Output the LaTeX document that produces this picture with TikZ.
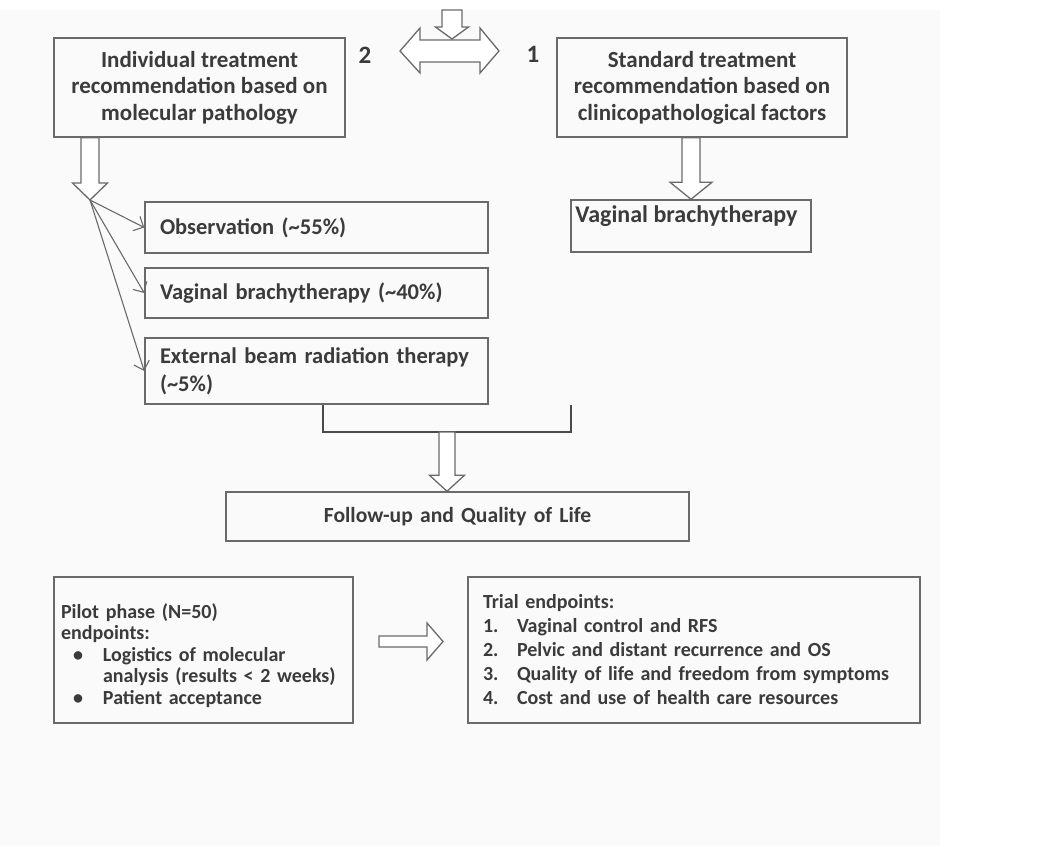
\documentclass[tikz,border=0pt]{standalone}
\usepackage{fontspec}
\setmainfont{Carlito}
\usepackage{tikz}
\usetikzlibrary{arrows.meta,calc}
\definecolor{ctext}{HTML}{3B3B3B}
\definecolor{cline}{HTML}{6A6A6A}
\definecolor{cbrack}{HTML}{4A4A4A}
\definecolor{cbg}{HTML}{FAFAFA}
\tikzset{
  fbox/.style={draw=cline, line width=1.5pt, inner sep=0pt, text=ctext, font=\bfseries},
  tbox/.style={fbox, align=center, font=\fontsize{23}{26.5}\selectfont\bfseries},
  obox/.style={fbox, align=left, inner xsep=15pt, font=\fontsize{22.5}{28}\selectfont\bfseries},
  lbox/.style={fbox, align=left, font=\fontsize{20}{21.5}\selectfont\bfseries},
  ltxt/.style={text=ctext, inner sep=0pt, font=\fontsize{24}{27}\selectfont\bfseries},
  num/.style={text=ctext, inner sep=0pt, font=\fontsize{25}{25}\selectfont\bfseries},
  blk/.style={draw=cline, line width=1.3pt, fill=white, line join=miter},
  fan/.style={draw=cline, line width=1.1pt, -{Straight Barb[length=8pt,width=16pt,line width=1.1pt]}},
  brack/.style={draw=cbrack, line width=2.2pt},
}
% hollow block arrow pointing down: top, tip, shaft half, head half, head length
\newcommand{\blkdown}[5]{%
  \draw[blk] let \p1=#1, \p2=#2 in
    ({\x2-#3pt},\y1) -- ({\x2+#3pt},\y1) -- ({\x2+#3pt},{\y2+#5pt})
    -- ({\x2+#4pt},{\y2+#5pt}) -- (\x2,\y2) -- ({\x2-#4pt},{\y2+#5pt})
    -- ({\x2-#3pt},{\y2+#5pt}) -- cycle;}

\begin{document}
\begin{tikzpicture}[x=1pt,y=-1pt]
  \useasboundingbox (0,0) rectangle (1041,846);
  \fill[cbg] (0,10) rectangle (940,846);

  % the two arms
  \node[tbox, minimum width=291, minimum height=99] (ind) at (199.5,87.5)
    {Individual treatment\\recommendation based on\\molecular pathology};
  \node[tbox, minimum width=290, minimum height=99] (std) at (702,87.5)
    {Standard treatment\\recommendation based on\\clinicopathological factors};
  \node[num] (n2) at (365,55) {2};
  \node[num] (n1) at (533,54) {1};

  % randomisation arrows
  \coordinate (dl) at (400,51);
  \coordinate (dr) at (499,51);
  \draw[blk] (dl) -- ++(20,-23) -- ++(0,12) -- ++(60,0) -- ++(0,-12) -- (dr)
    -- ++(-19,22) -- ++(0,-11) -- ++(-60,0) -- ++(0,11) -- cycle;
  \coordinate (rin) at (452,10);
  \coordinate (rtip) at (452,39);
  \blkdown{(rin)}{(rtip)}{10}{16.5}{12}

  % individual arm
  \coordinate (fan) at (90,200);
  \blkdown{(ind.south -| fan)}{(fan)}{9}{17.5}{17}
  \node[obox, text width=313, minimum height=51] (obs) at (316.5,227.5)
    {Observation (\textasciitilde55\%)};
  \node[obox, text width=313, minimum height=50] (vbl) at (316.5,293)
    {Vaginal brachytherapy (\textasciitilde40\%)};
  \node[obox, text width=313, minimum height=66] (ebrt) at (316.5,371)
    {External beam radiation therapy\\(\textasciitilde5\%)};
  \draw[fan] (fan) -- (obs.west);
  \draw[fan] (fan) -- (vbl.west);
  \draw[fan] (fan) -- (ebrt.west);

  % standard arm
  \node[fbox, minimum width=240, minimum height=52] (vbs) at (691,226) {};
  \node[ltxt, anchor=west] (vbst) at ($(vbs.west)+(5,-10)$) {Vaginal brachytherapy};
  \blkdown{(std.south -| vbs.north)}{(vbs.north)}{9}{21}{17}

  % follow-up
  \coordinate (bl) at ($(ebrt.south west)+(179,0)$);
  \coordinate (br) at (571,405);
  \draw[brack] (bl) -- ++(0,27) -| (br);
  \coordinate (bk) at (447,432);
  \node[obox, font=\fontsize{21.6}{26}\selectfont\bfseries, text width=433, align=center,
    minimum height=49] (fu) at (457.5,516.5) {Follow-up and Quality of Life};
  \blkdown{(bk)}{(fu.north -| bk)}{8}{17.5}{16}

  % endpoints
  \node[lbox, text width=285, inner xsep=7pt, minimum height=146] (pilot) at (203.5,650)
    {\rule{0pt}{26pt}Pilot phase (N=50)\\endpoints:\\
     \makebox[42pt][l]{\hspace{12pt}\textbullet}Logistics of molecular\\
     \hspace*{42pt}analysis (results < 2 weeks)\\
     \makebox[42pt][l]{\hspace{12pt}\textbullet}Patient acceptance};
  \node[lbox, font=\fontsize{20}{24}\selectfont\bfseries, text width=422, inner xsep=15pt,
    minimum height=146] (trial) at (694,650)
    {Trial endpoints:\\
     \makebox[34pt][l]{1.}Vaginal control and RFS\\
     \makebox[34pt][l]{2.}Pelvic and distant recurrence and OS\\
     \makebox[34pt][l]{3.}Quality of life and freedom from symptoms\\
     \makebox[34pt][l]{4.}Cost and use of health care resources};
  \coordinate (ra) at (379,641.5);
  \coordinate (rb) at (443,641.5);
  \draw[blk] (ra) -- ++(0,-5.5) -- ++(48,0) -- ++(0,-13) -- (rb) -- ++(-16,18.5)
    -- ++(0,-13) -- ++(-48,0) -- cycle;
\end{tikzpicture}
\end{document}
